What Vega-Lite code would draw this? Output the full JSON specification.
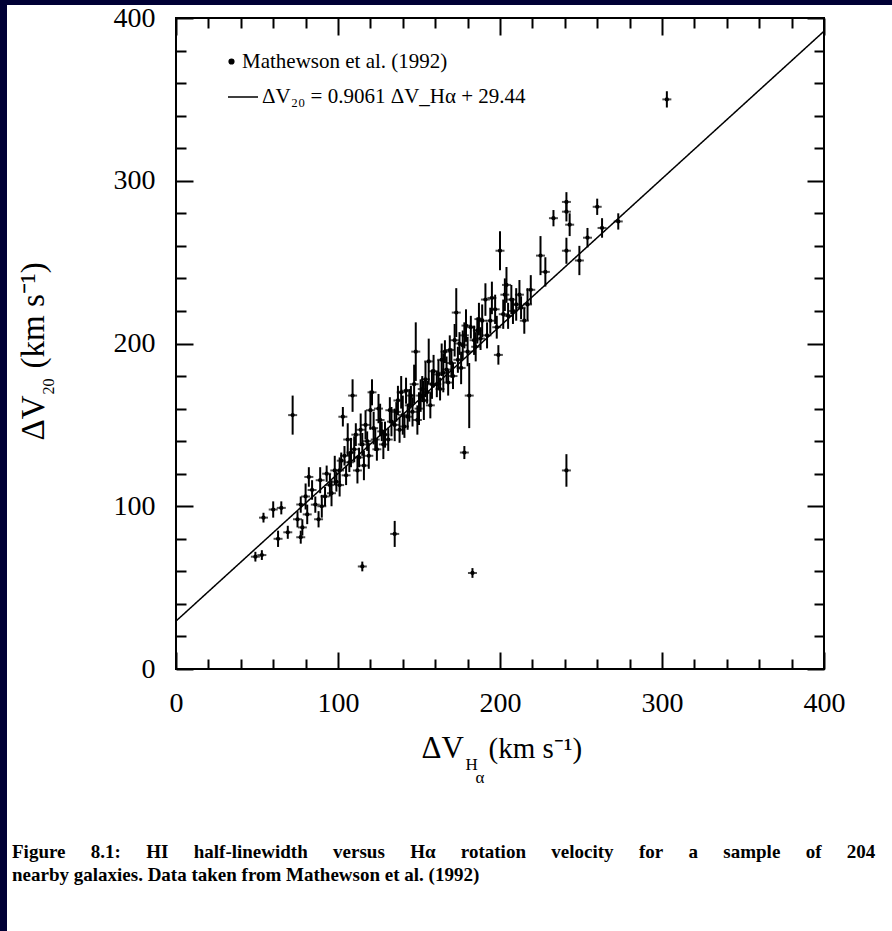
{
  "$schema": "https://vega.github.io/schema/vega-lite/v6.json",
  "width": 648,
  "height": 651,
  "autosize": {"type": "none"},
  "padding": {"left": 176, "top": 18, "right": 68, "bottom": 262},
  "background": "white",
  "config": {
    "view": {"stroke": "black", "strokeWidth": 2},
    "axis": {
      "grid": false, "domain": false,
      "tickColor": "black", "tickWidth": 2,
      "labelFont": "Liberation Serif", "labelFontSize": 28, "labelColor": "black",
      "titleFont": "Liberation Serif", "titleColor": "black", "titleFontWeight": "normal"
    },
    "legend": {
      "labelFont": "Liberation Serif", "labelFontSize": 21, "labelColor": "black", "labelLimit": 600, "padding": 0
    }
  },
  "title": {
    "text": ["Figure\u2003\u00a0\u200a8.1:\u2003\u00a0\u200aHI\u2003\u00a0\u200ahalf-linewidth\u2003\u00a0\u200aversus\u2003\u00a0\u200aHα\u2003\u00a0\u200arotation\u2003\u00a0\u200avelocity\u2003\u00a0\u200afor\u2003\u00a0\u200aa\u2003\u00a0\u200asample\u2003\u00a0\u200aof\u2003\u00a0\u200a204", "nearby galaxies. Data taken from Mathewson et al. (1992)"],
    "orient": "bottom", "anchor": "start", "frame": "group", "dx": -164, "offset": -88,
    "font": "Liberation Serif", "fontSize": 19, "fontWeight": "bold", "color": "black",
    "lineHeight": 23, "baseline": "top"
  },
  "datasets": {
    "gal": [
      {"x":49,"y":69,"lo":66,"hi":72},{"x":53,"y":70,"lo":67,"hi":73},{"x":54,"y":93,"lo":90,"hi":96},
      {"x":60,"y":98,"lo":93,"hi":103},{"x":65,"y":99,"lo":95,"hi":103},{"x":63,"y":80,"lo":75,"hi":85},
      {"x":69,"y":84,"lo":80,"hi":88},{"x":72,"y":156,"lo":144,"hi":168},{"x":75,"y":92,"lo":87,"hi":97},
      {"x":77,"y":81,"lo":77,"hi":85},{"x":78,"y":87,"lo":82,"hi":92},{"x":115,"y":63,"lo":60,"hi":66},
      {"x":135,"y":83,"lo":75,"hi":91},{"x":178,"y":133,"lo":129,"hi":137},{"x":183,"y":59,"lo":56,"hi":62},
      {"x":241,"y":122,"lo":112,"hi":132},{"x":303,"y":350,"lo":345,"hi":355},
      {"x":80,"y":106,"lo":98,"hi":114},{"x":84,"y":110,"lo":104,"hi":116},{"x":86,"y":101,"lo":96,"hi":106},
      {"x":89,"y":116,"lo":108,"hi":124},{"x":92,"y":106,"lo":100,"hi":112},{"x":95,"y":113,"lo":106,"hi":120},
      {"x":98,"y":122,"lo":113,"hi":131},{"x":77,"y":101,"lo":96,"hi":106},{"x":81,"y":95,"lo":89,"hi":101},
      {"x":88,"y":92,"lo":87,"hi":97},{"x":82,"y":118,"lo":112,"hi":124},{"x":90,"y":100,"lo":93,"hi":107},
      {"x":93,"y":120,"lo":115,"hi":125},{"x":96,"y":108,"lo":100,"hi":116},{"x":99,"y":115,"lo":109,"hi":121},
      {"x":101,"y":122,"lo":114,"hi":130},{"x":104,"y":131,"lo":125,"hi":137},{"x":106,"y":141,"lo":131,"hi":151},
      {"x":103,"y":155,"lo":149,"hi":161},{"x":109,"y":168,"lo":158,"hi":178},{"x":110,"y":135,"lo":127,"hi":143},
      {"x":114,"y":147,"lo":137,"hi":157},{"x":115,"y":138,"lo":131,"hi":145},{"x":117,"y":150,"lo":141,"hi":159},
      {"x":120,"y":159,"lo":147,"hi":171},{"x":121,"y":170,"lo":162,"hi":178},{"x":123,"y":141,"lo":134,"hi":148},
      {"x":126,"y":153,"lo":143,"hi":163},{"x":129,"y":144,"lo":136,"hi":152},{"x":107,"y":127,"lo":121,"hi":133},
      {"x":112,"y":122,"lo":114,"hi":130},{"x":101,"y":113,"lo":106,"hi":120},{"x":105,"y":119,"lo":113,"hi":125},
      {"x":102,"y":128,"lo":123,"hi":133},{"x":108,"y":133,"lo":124,"hi":142},{"x":111,"y":144,"lo":137,"hi":151},
      {"x":113,"y":130,"lo":124,"hi":136},{"x":116,"y":125,"lo":116,"hi":134},{"x":118,"y":140,"lo":134,"hi":146},
      {"x":119,"y":131,"lo":123,"hi":139},{"x":122,"y":148,"lo":138,"hi":158},{"x":124,"y":135,"lo":128,"hi":142},
      {"x":125,"y":160,"lo":151,"hi":169},{"x":127,"y":146,"lo":140,"hi":152},{"x":128,"y":138,"lo":129,"hi":147},
      {"x":132,"y":159,"lo":151,"hi":167},{"x":135,"y":150,"lo":140,"hi":160},{"x":137,"y":165,"lo":156,"hi":174},
      {"x":140,"y":156,"lo":144,"hi":168},{"x":142,"y":171,"lo":163,"hi":179},{"x":144,"y":162,"lo":152,"hi":172},
      {"x":147,"y":175,"lo":163,"hi":187},{"x":149,"y":153,"lo":144,"hi":162},{"x":151,"y":168,"lo":158,"hi":178},
      {"x":154,"y":178,"lo":167,"hi":189},{"x":156,"y":189,"lo":175,"hi":203},{"x":157,"y":162,"lo":154,"hi":170},
      {"x":148,"y":195,"lo":177,"hi":213},{"x":158,"y":175,"lo":166,"hi":184},{"x":131,"y":141,"lo":134,"hi":148},
      {"x":138,"y":147,"lo":139,"hi":155},{"x":133,"y":152,"lo":143,"hi":161},{"x":136,"y":158,"lo":152,"hi":164},
      {"x":139,"y":170,"lo":160,"hi":180},{"x":141,"y":149,"lo":142,"hi":156},{"x":143,"y":155,"lo":147,"hi":163},
      {"x":145,"y":168,"lo":162,"hi":174},{"x":146,"y":158,"lo":149,"hi":167},{"x":150,"y":160,"lo":150,"hi":170},
      {"x":152,"y":172,"lo":164,"hi":180},{"x":153,"y":165,"lo":153,"hi":177},{"x":155,"y":170,"lo":163,"hi":177},
      {"x":159,"y":183,"lo":173,"hi":193},{"x":162,"y":181,"lo":172,"hi":190},{"x":164,"y":190,"lo":180,"hi":200},
      {"x":167,"y":184,"lo":176,"hi":192},{"x":169,"y":196,"lo":187,"hi":205},{"x":172,"y":202,"lo":192,"hi":212},
      {"x":174,"y":190,"lo":182,"hi":198},{"x":173,"y":219,"lo":204,"hi":234},{"x":177,"y":199,"lo":190,"hi":208},
      {"x":179,"y":211,"lo":201,"hi":221},{"x":181,"y":168,"lo":148,"hi":188},{"x":184,"y":202,"lo":193,"hi":211},
      {"x":186,"y":208,"lo":200,"hi":216},{"x":189,"y":214,"lo":204,"hi":224},{"x":163,"y":172,"lo":165,"hi":179},
      {"x":168,"y":176,"lo":168,"hi":184},{"x":161,"y":175,"lo":167,"hi":183},{"x":165,"y":182,"lo":170,"hi":194},
      {"x":166,"y":195,"lo":188,"hi":202},{"x":170,"y":188,"lo":179,"hi":197},{"x":171,"y":180,"lo":172,"hi":188},
      {"x":175,"y":200,"lo":193,"hi":207},{"x":176,"y":185,"lo":175,"hi":195},{"x":178,"y":205,"lo":197,"hi":213},
      {"x":180,"y":195,"lo":186,"hi":204},{"x":182,"y":210,"lo":203,"hi":217},{"x":185,"y":198,"lo":189,"hi":207},
      {"x":187,"y":215,"lo":205,"hi":225},{"x":188,"y":203,"lo":196,"hi":210},
      {"x":191,"y":227,"lo":217,"hi":237},{"x":194,"y":214,"lo":206,"hi":222},{"x":197,"y":221,"lo":212,"hi":230},
      {"x":199,"y":193,"lo":187,"hi":199},{"x":200,"y":257,"lo":245,"hi":269},{"x":203,"y":230,"lo":220,"hi":240},
      {"x":205,"y":217,"lo":209,"hi":225},{"x":207,"y":227,"lo":218,"hi":236},{"x":210,"y":224,"lo":214,"hi":234},
      {"x":212,"y":230,"lo":221,"hi":239},{"x":215,"y":214,"lo":206,"hi":222},{"x":217,"y":224,"lo":214,"hi":234},
      {"x":219,"y":233,"lo":224,"hi":242},{"x":192,"y":205,"lo":197,"hi":213},{"x":195,"y":228,"lo":218,"hi":238},
      {"x":198,"y":210,"lo":203,"hi":217},{"x":202,"y":218,"lo":209,"hi":227},{"x":204,"y":236,"lo":225,"hi":247},
      {"x":208,"y":220,"lo":212,"hi":228},{"x":213,"y":222,"lo":215,"hi":229},
      {"x":225,"y":254,"lo":242,"hi":266},{"x":228,"y":244,"lo":235,"hi":253},{"x":233,"y":277,"lo":272,"hi":282},
      {"x":241,"y":287,"lo":281,"hi":293},{"x":241,"y":281,"lo":275,"hi":287},{"x":241,"y":257,"lo":249,"hi":265},
      {"x":243,"y":273,"lo":266,"hi":280},{"x":249,"y":251,"lo":242,"hi":260},{"x":254,"y":265,"lo":259,"hi":271},
      {"x":260,"y":284,"lo":279,"hi":289},{"x":263,"y":271,"lo":265,"hi":277},{"x":273,"y":275,"lo":270,"hi":280}
    ],
    "fit": [{"x": 0, "y": 29.44}, {"x": 400, "y": 391.88}]
  },
  "layer": [
    {
      "data": {"name": "gal"},
      "mark": {"type": "rule", "color": "black", "strokeWidth": 2},
      "encoding": {
        "x": {"field": "x", "type": "quantitative", "scale": {"domain": [0, 400], "nice": false, "zero": false},
          "axis": {"orient": "bottom", "values": [0,20,40,60,80,100,120,140,160,180,200,220,240,260,280,300,320,340,360,380,400],
            "tickSize": {"condition": {"test": "datum.value % 100 === 0", "value": -17}, "value": -10},
            "labelExpr": "datum.value % 100 === 0 ? datum.label : ''", "labelFlush": false, "labelOverlap": false,
            "labelPadding": 37, "labelBaseline": "top",
            "title": "ΔV", "titleFontSize": 31, "titleX": 245, "titleY": 88, "titleAlign": "left", "titleBaseline": "alphabetic", "titleAngle": 0}},
        "y": {"field": "lo", "type": "quantitative", "scale": {"domain": [0, 400], "nice": false, "zero": false},
          "axis": {"orient": "left", "values": [0,20,40,60,80,100,120,140,160,180,200,220,240,260,280,300,320,340,360,380,400],
            "tickSize": {"condition": {"test": "datum.value % 100 === 0", "value": -17}, "value": -10},
            "labelExpr": "datum.value % 100 === 0 ? datum.label : ''", "labelFlush": false, "labelOverlap": false,
            "labelPadding": 38,
            "title": "ΔV", "titleFontSize": 33, "titleX": -133, "titleY": 422, "titleAngle": -90, "titleAlign": "left", "titleBaseline": "alphabetic"}},
        "y2": {"field": "hi"},
        "fill": {"field": "lo", "type": "quantitative", "scale": {"range": ["#000035", "#000035"]},
          "legend": {"type": "gradient", "direction": "vertical", "orient": "none", "legendX": -176, "legendY": -18,
            "gradientLength": 931, "gradientThickness": 7, "gradientStrokeWidth": 0, "gradientOpacity": 1,
            "title": null, "labelExpr": "''", "labelOpacity": 0, "labelFontSize": 1, "padding": 0}}
      }
    },
    {
      "data": {"name": "gal"},
      "mark": {"type": "tick", "orient": "horizontal", "color": "black", "size": 9, "thickness": 2},
      "encoding": {
        "x": {"field": "x", "type": "quantitative", "scale": {"domain": [0, 400], "nice": false, "zero": false},
          "axis": {"orient": "top", "values": [0,20,40,60,80,100,120,140,160,180,200,220,240,260,280,300,320,340,360,380,400],
            "tickSize": {"condition": {"test": "datum.value % 100 === 0", "value": -17}, "value": -10},
            "labels": false,
            "title": "(km s⁻¹)", "titleFontSize": 29, "titleX": 312, "titleY": 739, "titleAlign": "left", "titleBaseline": "alphabetic", "titleAngle": 0}},
        "y": {"field": "y", "type": "quantitative", "scale": {"domain": [0, 400], "nice": false, "zero": false},
          "axis": {"orient": "right", "values": [0,20,40,60,80,100,120,140,160,180,200,220,240,260,280,300,320,340,360,380,400],
            "tickSize": {"condition": {"test": "datum.value % 100 === 0", "value": -17}, "value": -10},
            "labels": false,
            "title": "(km s⁻¹)", "titleFontSize": 33, "titleX": -781, "titleY": 350, "titleAngle": -90, "titleAlign": "left", "titleBaseline": "alphabetic"}}
      }
    },
    {
      "data": {"name": "gal"},
      "mark": {"type": "point", "filled": true, "shape": "circle", "size": 18, "opacity": 1, "strokeWidth": 0},
      "encoding": {
        "x": {"field": "x", "type": "quantitative", "scale": {"domain": [0, 400], "nice": false, "zero": false},
          "axis": {"orient": "bottom", "ticks": false, "labels": false, "domain": false,
            "title": "H", "titleFontSize": 17, "titleX": 289, "titleY": 100, "titleAlign": "left", "titleBaseline": "alphabetic", "titleAngle": 0}},
        "y": {"field": "y", "type": "quantitative", "scale": {"domain": [0, 400], "nice": false, "zero": false},
          "axis": {"orient": "left", "ticks": false, "labels": false, "domain": false,
            "title": "20", "titleFontSize": 16, "titleX": -123, "titleY": 376, "titleAngle": -90, "titleAlign": "left", "titleBaseline": "alphabetic"}},
        "color": {"datum": "Mathewson et al. (1992)", "type": "nominal",
          "scale": {"domain": ["Mathewson et al. (1992)"], "range": ["black"]},
          "legend": {"orient": "none", "legendX": 45, "legendY": 33, "title": null, "symbolType": "circle", "symbolSize": 22,
            "labelOffset": 0, "labelFont": "Liberation Serif", "labelFontSize": 21, "labelColor": "black",
            "symbolFillColor": "black", "symbolStrokeColor": "black", "symbolOpacity": 1}},
        "stroke": {"field": "hi", "type": "quantitative", "scale": {"range": ["#000035", "#000035"]},
          "legend": {"type": "gradient", "direction": "horizontal", "orient": "none", "legendX": -176, "legendY": -18,
            "gradientLength": 892, "gradientThickness": 5, "gradientStrokeWidth": 0, "gradientOpacity": 1,
            "title": null, "labelExpr": "''", "labelOpacity": 0, "labelFontSize": 1, "padding": 0}}
      }
    },
    {
      "data": {"name": "fit"},
      "mark": {"type": "line", "strokeWidth": 1.5, "color": "black"},
      "encoding": {
        "x": {"field": "x", "type": "quantitative", "scale": {"domain": [0, 400], "nice": false, "zero": false},
          "axis": {"orient": "bottom", "ticks": false, "labels": false, "domain": false,
            "title": "α", "titleFontSize": 17, "titleX": 299, "titleY": 113, "titleAlign": "left", "titleBaseline": "alphabetic", "titleAngle": 0}},
        "y": {"field": "y", "type": "quantitative", "scale": {"domain": [0, 400], "nice": false, "zero": false}, "axis": null},
        "strokeDash": {"datum": "ΔV₂₀ = 0.9061 ΔV_Hα + 29.44", "type": "nominal",
          "scale": {"domain": ["ΔV₂₀ = 0.9061 ΔV_Hα + 29.44"], "range": [[1, 0]]},
          "legend": {"orient": "none", "legendX": 51, "legendY": 63, "title": null, "symbolType": "stroke", "symbolSize": 900,
            "labelOffset": 3, "labelFont": "Liberation Serif", "labelFontSize": 21, "labelColor": "black",
            "symbolStrokeColor": "black", "symbolStrokeWidth": 1.5, "symbolOpacity": 1}}
      }
    }
  ],
  "resolve": {"axis": {"x": "independent", "y": "independent"}}
}
